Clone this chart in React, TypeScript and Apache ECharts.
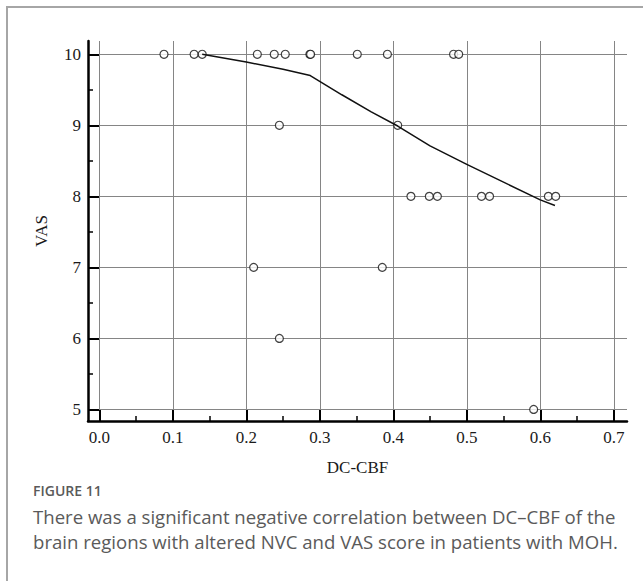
import React, { useEffect, useRef } from "react";
import * as echarts from "echarts";

const pointsX: number[] = [
  0.088, 0.129, 0.14, 0.215, 0.238, 0.253, 0.2865, 0.2875, 0.351, 0.392, 0.482, 0.489,
  0.245, 0.406,
  0.424, 0.449, 0.46, 0.52, 0.531, 0.611, 0.621,
  0.21, 0.385,
  0.245,
  0.591,
];
const pointsY: number[] = [
  10, 10, 10, 10, 10, 10, 10, 10, 10, 10, 10, 10,
  9, 9,
  8, 8, 8, 8, 8, 8, 8,
  7, 7,
  6,
  5,
];
const fitX: number[] = [0.14, 0.2, 0.25, 0.287, 0.33, 0.37, 0.406, 0.45, 0.5, 0.55, 0.6, 0.62];
const fitY: number[] = [10, 9.89, 9.79, 9.7, 9.43, 9.19, 8.99, 8.71, 8.45, 8.2, 7.95, 7.87];
const xTicks: number[] = [0, 0.1, 0.2, 0.3, 0.4, 0.5, 0.6, 0.7];
const xMinorTicks: number[] = [0.05, 0.15, 0.25, 0.35, 0.45, 0.55, 0.65];
const yTicks: number[] = [5, 6, 7, 8, 9, 10];
const yMinorTicks: number[] = [5.5, 6.5, 7.5, 8.5, 9.5];
const xName = "DC-CBF";
const yName = "VAS";
const figLabel = "FIGURE 11";
const captionLines: string[] = [
  "There was a significant negative correlation between DC\u2013CBF of the",
  "brain regions with altered NVC and VAS score in patients with MOH.",
];

const X_MIN = -0.0154;
const X_MAX = 0.718;
const Y_MIN = 4.837;
const Y_MAX = 10.187;
const SERIF = "'Liberation Serif', 'DejaVu Serif', serif";
const SANS = "'Open Sans', 'Noto Sans', sans-serif";

export default function App() {
  const ref = useRef<HTMLDivElement>(null);
  useEffect(() => {
    if (!ref.current) return;
    const chart = echarts.init(ref.current, undefined, { renderer: "svg" });
    const axisLabelStyle = { fontFamily: SERIF, fontSize: 17, color: "#1a1a1a" };
    chart.setOption({
      animation: false,
      backgroundColor: "#ffffff",
      grid: { left: 88, right: 16, top: 41, bottom: 160, containLabel: false },
      xAxis: [
        {
          type: "value",
          min: X_MIN,
          max: X_MAX,
          position: "bottom",
          name: xName,
          nameLocation: "middle",
          nameGap: 38,
          nameTextStyle: { fontFamily: SERIF, fontSize: 17, color: "#1a1a1a" },
          axisLine: { show: true, onZero: false, lineStyle: { color: "#000", width: 2.5 } },
          axisTick: { show: true, inside: true, length: 11, customValues: xTicks, lineStyle: { color: "#000", width: 2 } },
          axisLabel: { show: true, customValues: xTicks, margin: 8, formatter: (v: number) => v.toFixed(1), ...axisLabelStyle },
          splitLine: { show: true, lineStyle: { color: "#858585", width: 1 } },
        },
        {
          type: "value",
          min: X_MIN,
          max: X_MAX,
          position: "bottom",
          axisLine: { show: false, onZero: false },
          axisTick: { show: true, inside: true, length: 5, customValues: xMinorTicks, lineStyle: { color: "#000", width: 1.5 } },
          axisLabel: { show: false },
          splitLine: { show: false },
        },
      ],
      yAxis: [
        {
          type: "value",
          min: Y_MIN,
          max: Y_MAX,
          position: "left",
          name: yName,
          nameLocation: "middle",
          nameGap: 38,
          nameRotate: 90,
          nameTextStyle: { fontFamily: SERIF, fontSize: 17, color: "#1a1a1a" },
          axisLine: { show: true, onZero: false, lineStyle: { color: "#000", width: 2.5 } },
          axisTick: { show: true, inside: true, length: 11, customValues: yTicks, lineStyle: { color: "#000", width: 2 } },
          axisLabel: { show: true, customValues: yTicks, margin: 7, formatter: (v: number) => String(v), ...axisLabelStyle },
          splitLine: { show: true, lineStyle: { color: "#858585", width: 1 } },
        },
        {
          type: "value",
          min: Y_MIN,
          max: Y_MAX,
          position: "left",
          axisLine: { show: false, onZero: false },
          axisTick: { show: true, inside: true, length: 5, customValues: yMinorTicks, lineStyle: { color: "#000", width: 1.5 } },
          axisLabel: { show: false },
          splitLine: { show: false },
        },
      ],
      series: [
        {
          type: "scatter",
          xAxisIndex: 0,
          yAxisIndex: 0,
          data: pointsX.map((x, i) => [x, pointsY[i]]),
          symbol: "circle",
          symbolSize: 8,
          itemStyle: { color: "#ffffff", borderColor: "#111", borderWidth: 1.2 },
          z: 3,
        },
        {
          type: "line",
          xAxisIndex: 0,
          yAxisIndex: 0,
          data: fitX.map((x, i) => [x, fitY[i]]),
          showSymbol: false,
          symbol: "none",
          smooth: false,
          lineStyle: { color: "#111", width: 1.5 },
          z: 4,
        },
      ],
      graphic: [
        {
          type: "rect",
          shape: { x: 7, y: 7, width: 700, height: 700 },
          style: { fill: "none", stroke: "#a6a6a6", lineWidth: 2 },
          silent: true,
        },
        {
          type: "text",
          left: 33,
          top: 483,
          style: { text: figLabel, font: `600 14px ${SANS}`, fill: "#5a5a5a" },
        },
        {
          type: "text",
          left: 33,
          top: 507,
          style: { text: captionLines[0], font: `18.6px ${SANS}`, fill: "#5a5a5a" },
        },
        {
          type: "text",
          left: 33,
          top: 532,
          style: { text: captionLines[1], font: `18.6px ${SANS}`, fill: "#5a5a5a" },
        },
      ],
    });
    return () => chart.dispose();
  }, []);
  return (
    <div
      ref={ref}
      style={{ position: "fixed", left: 0, top: 0, width: 643, height: 581, background: "#fff" }}
    />
  );
}
